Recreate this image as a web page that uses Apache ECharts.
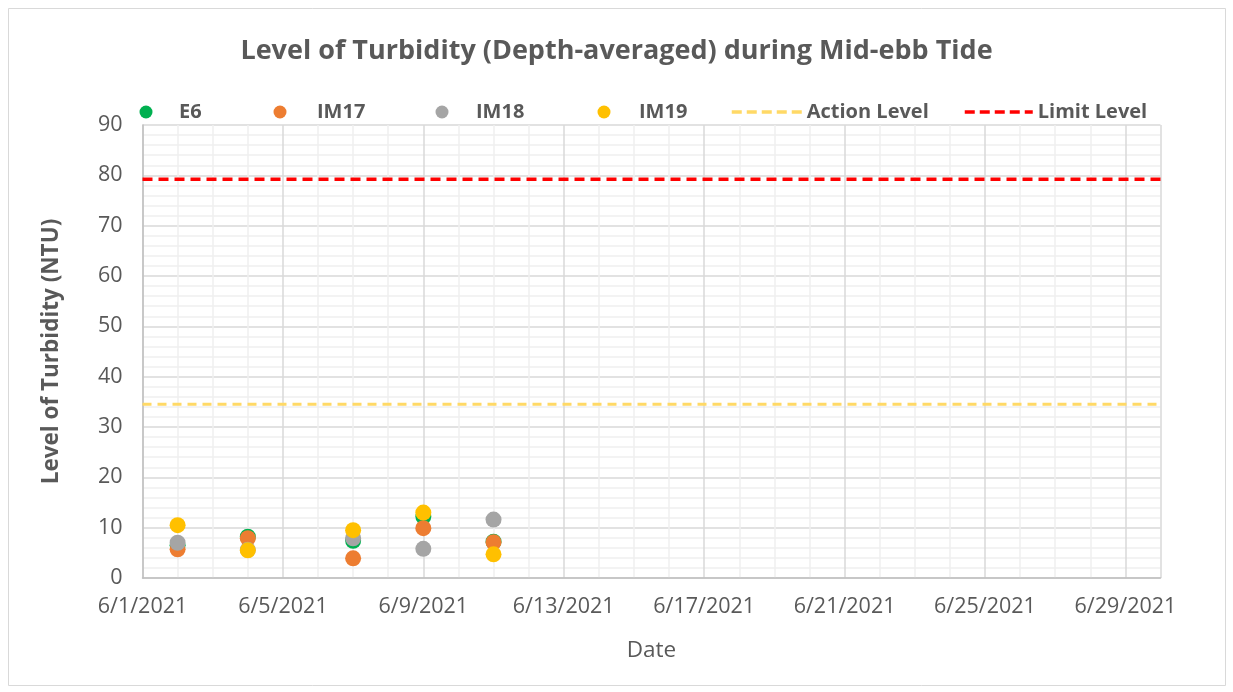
<!DOCTYPE html>
<html>
<head>
<meta charset="utf-8">
<script src="https://cdn.jsdelivr.net/npm/echarts@6/dist/echarts.min.js"></script>
<style>
html,body{margin:0;padding:0;background:#fff;}
#chart{width:1233px;height:692px;}
</style>
</head>
<body>
<div id="chart"></div>
<script>
// ---- data ----
const dates = ['2021-06-02', '2021-06-04', '2021-06-07', '2021-06-09', '2021-06-11'];
const E6   = [6.5, 8.2, 7.4, 12.2, 7.2];
const IM17 = [5.7, 7.9, 3.9, 9.9, 7.1];
const IM18 = [7.0, 5.6, 7.9, 5.8, 11.6];
const IM19 = [10.5, 5.5, 9.5, 13.0, 4.7];
const actionLevel = 34.5;
const limitLevel = 79.2;
const xStart = '2021-06-01';
const xEnd = '2021-06-30';
const yTicks = [0, 10, 20, 30, 40, 50, 60, 70, 80, 90];

const DAY = 86400000;
function ts(s){ const p = s.split('-').map(Number); return Date.UTC(p[0], p[1]-1, p[2]); }
function fmt(v){ const d = new Date(v); return (d.getUTCMonth()+1) + '/' + d.getUTCDate() + '/' + d.getUTCFullYear(); }
function pts(arr){ return dates.map((d,i)=>[ts(d), arr[i]]); }

const FONT = '"Open Sans"';
const GREY = '#595959';

const chart = echarts.init(document.getElementById('chart'), null, {renderer:'canvas'});

function scatter(name, arr, color){
  return {name, type:'scatter', data:pts(arr), symbol:'circle', symbolSize:16,
          itemStyle:{color, opacity:1}, z:3};
}
function level(name, v, color, width, dash){
  return {name, type:'line', data:[[ts(xStart), v],[ts(xEnd), v]], symbol:'none', showSymbol:false,
          lineStyle:{color, width, type:dash}, itemStyle:{color}, z:2, silent:true};
}

function legDot(name, centerX, textX){
  const left = centerX - 6.5;
  const pad = textX - (left + 13 + 5) - 6;
  return {
    data:[{name, icon:'circle'}], left, top:97, itemWidth:13, itemHeight:13,
    formatter:'{t|{name}}',
    textStyle:{fontFamily:FONT, fontSize:20, fontWeight:'bold', color:GREY,
      rich:{t:{fontFamily:FONT, fontSize:20, fontWeight:'bold', color:GREY, padding:[0,0,0,pad]}}}
  };
}
function legLine(name, x0, x1, textX, color){
  const pad = Math.max(0, textX - (x1 + 5) - 6);
  return {
    data:[{name}], left:x0, top:97, itemWidth:x1-x0, itemHeight:13,
    itemStyle:{opacity:0},
    lineStyle:{color, width:3.5, type:[10,5], opacity:1},
    formatter:'{t|{name}}',
    textStyle:{fontFamily:FONT, fontSize:20, fontWeight:'bold', color:GREY,
      rich:{t:{fontFamily:FONT, fontSize:20, fontWeight:'bold', color:GREY, padding:[0,0,0,pad]}}}
  };
}

chart.setOption({
  animation:false,
  backgroundColor:'#fff',
  title:{
    text:'Level of Turbidity (Depth-averaged) during Mid-ebb Tide',
    left:'center', top:33,
    textStyle:{fontFamily:FONT, fontSize:27, fontWeight:'bold', color:GREY}
  },
  legend:[
    legDot('E6', 141, 180),
    legDot('IM17', 275, 318),
    legDot('IM18', 437, 477),
    legDot('IM19', 599, 640),
    legLine('Action Level', 725, 795, 802, '#FFD966'),
    legLine('Limit Level', 958, 1026, 1033, '#FF0000')
  ],
  graphic:[{type:'rect', shape:{x:8.5, y:8.5, width:1217, height:677}, style:{fill:null, stroke:'#D9D9D9', lineWidth:1}, silent:true}],
  grid:{left:142.5, right:72.5, top:125, bottom:114, containLabel:false},
  xAxis:{
    type:'value', min:ts(xStart), max:ts(xEnd), interval:4*DAY,
    name:'Date', nameLocation:'middle', nameGap:61,
    nameTextStyle:{fontFamily:FONT, fontSize:22.5, color:GREY},
    axisLine:{show:true, lineStyle:{color:'#BFBFBF', width:1.5}},
    axisTick:{show:false},
    axisLabel:{formatter:fmt, fontFamily:FONT, fontSize:21.5, color:GREY, margin:18, showMaxLabel:false},
    splitLine:{show:true, lineStyle:{color:'#D9D9D9', width:1.5}},
    minorTick:{show:false, splitNumber:4},
    minorSplitLine:{show:true, lineStyle:{color:'#F0F0F0', width:1.5}}
  },
  yAxis:{
    type:'value', min:yTicks[0], max:yTicks[yTicks.length-1], interval:10,
    name:'Level of Turbidity (NTU)', nameLocation:'middle', nameGap:79, nameRotate:90,
    nameTextStyle:{fontFamily:FONT, fontSize:22.5, fontWeight:'bold', color:GREY},
    axisLine:{show:true, lineStyle:{color:'#BFBFBF', width:1.5}},
    axisTick:{show:false},
    axisLabel:{fontFamily:FONT, fontSize:21.5, color:GREY, margin:20},
    splitLine:{show:true, lineStyle:{color:'#D9D9D9', width:1.5}},
    minorTick:{show:false, splitNumber:5},
    minorSplitLine:{show:true, lineStyle:{color:'#F0F0F0', width:1.5}}
  },
  series:[
    scatter('E6', E6, '#00B050'),
    scatter('IM17', IM17, '#ED7D31'),
    scatter('IM18', IM18, '#A5A5A5'),
    scatter('IM19', IM19, '#FFC000'),
    level('Action Level', actionLevel, '#FFD966', 3, [9,6]),
    level('Limit Level', limitLevel, '#FF0000', 3.5, [10,6])
  ]
});
</script>
</body>
</html>
